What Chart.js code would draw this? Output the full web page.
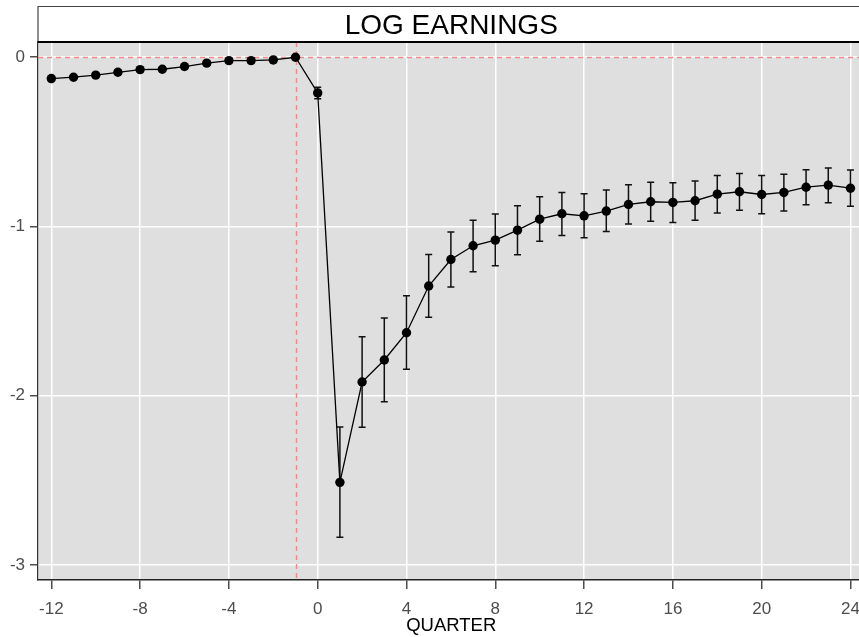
<!DOCTYPE html>
<html>
<head>
<meta charset="utf-8">
<script src="https://cdn.jsdelivr.net/npm/chart.js@4.4.1/dist/chart.umd.min.js"></script>
<style>
  html, body { margin: 0; padding: 0; background: #ffffff; overflow: hidden; }
  #wrap { width: 870px; height: 637px; }
</style>
</head>
<body>
<div id="wrap"><canvas id="c" width="870" height="637"></canvas></div>
<script>
// Event-study estimates of log earnings by quarter relative to the event
const quarters = [-12, -11, -10, -9, -8, -7, -6, -5, -4, -3, -2, -1, 0, 1, 2, 3, 4, 5, 6, 7, 8, 9, 10, 11, 12, 13, 14, 15, 16, 17, 18, 19, 20, 21, 22, 23, 24];
const estimates = [-0.126, -0.118, -0.106, -0.089, -0.073, -0.071, -0.055, -0.035, -0.020, -0.020, -0.016, 0,
  -0.211, -2.512, -1.919, -1.789, -1.628, -1.352, -1.195, -1.114, -1.081, -1.022, -0.957, -0.925, -0.937,
  -0.909, -0.870, -0.854, -0.858, -0.848, -0.809, -0.795, -0.811, -0.799, -0.768, -0.756, -0.774];
const upperCI = [-0.114, -0.106, -0.094, -0.077, -0.061, -0.059, -0.043, -0.023, -0.008, -0.008, -0.004, 0,
  -0.178, -2.185, -1.652, -1.541, -1.410, -1.165, -1.032, -0.963, -0.927, -0.878, -0.825, -0.799, -0.807,
  -0.785, -0.754, -0.738, -0.742, -0.732, -0.699, -0.687, -0.699, -0.691, -0.665, -0.654, -0.667];
const lowerCI = [-0.138, -0.130, -0.118, -0.101, -0.085, -0.083, -0.067, -0.047, -0.032, -0.032, -0.028, 0,
  -0.246, -2.837, -2.187, -2.036, -1.844, -1.537, -1.358, -1.268, -1.232, -1.167, -1.087, -1.053, -1.067,
  -1.030, -0.986, -0.969, -0.976, -0.963, -0.921, -0.904, -0.925, -0.909, -0.872, -0.860, -0.880];
const xTicks = [-12, -8, -4, 0, 4, 8, 12, 16, 20, 24];
const yTicks = [0, -1, -2, -3];
const referenceQuarter = -1;
const baselineValue = 0;
const panelTitle = 'LOG EARNINGS';
const xTitle = 'QUARTER';

const FONT = '"Liberation Sans", Arial, sans-serif';

const panelPlugin = {
  id: 'panel',
  beforeDraw(chart) {
    const { ctx, chartArea: a } = chart;
    ctx.save();
    ctx.fillStyle = '#dfdfdf';
    ctx.fillRect(a.left, a.top, a.right - a.left, a.bottom - a.top);
    // facet strip
    const stripTop = 6;
    ctx.fillStyle = '#ffffff';
    ctx.fillRect(a.left, stripTop, a.right - a.left + 20, a.top - stripTop);
    ctx.strokeStyle = '#444444';
    ctx.lineWidth = 1.2;
    ctx.beginPath();
    ctx.moveTo(a.left, a.top);
    ctx.lineTo(a.left, stripTop + 0.5);
    ctx.lineTo(a.right + 20, stripTop + 0.5);
    ctx.stroke();
    ctx.fillStyle = '#000000';
    ctx.font = '28px ' + FONT;
    ctx.textAlign = 'center';
    ctx.textBaseline = 'middle';
    ctx.fillText(panelTitle, (a.left + a.right) / 2, (stripTop + a.top) / 2 + 2);
    ctx.restore();
  },
  beforeDatasetsDraw(chart) {
    const { ctx, chartArea: a, scales } = chart;
    const x = scales.x, y = scales.y;
    ctx.save();
    // reference lines
    ctx.strokeStyle = '#f08a8a';
    ctx.lineWidth = 1.4;
    ctx.setLineDash([5, 4]);
    const y0 = Math.round(y.getPixelForValue(baselineValue)) + 0.5;
    ctx.beginPath(); ctx.moveTo(a.left, y0); ctx.lineTo(a.right, y0); ctx.stroke();
    const xr = Math.round(x.getPixelForValue(referenceQuarter)) + 0.5;
    ctx.beginPath(); ctx.moveTo(xr, a.top); ctx.lineTo(xr, a.bottom); ctx.stroke();
    ctx.setLineDash([]);
    // confidence intervals
    ctx.strokeStyle = '#111111';
    ctx.lineWidth = 1.5;
    const cap = 3.5;
    quarters.forEach((q, i) => {
      if (upperCI[i] === lowerCI[i]) return;
      const px = x.getPixelForValue(q);
      const pu = y.getPixelForValue(upperCI[i]);
      const pl = y.getPixelForValue(lowerCI[i]);
      ctx.beginPath();
      ctx.moveTo(px, pu); ctx.lineTo(px, pl);
      ctx.moveTo(px - cap, pu); ctx.lineTo(px + cap, pu);
      ctx.moveTo(px - cap, pl); ctx.lineTo(px + cap, pl);
      ctx.stroke();
    });
    ctx.restore();
  },
  afterDraw(chart) {
    const { ctx, chartArea: a } = chart;
    ctx.save();
    ctx.strokeStyle = '#000000';
    ctx.lineWidth = 2;
    ctx.beginPath(); ctx.moveTo(a.left, a.top); ctx.lineTo(a.right + 20, a.top); ctx.stroke();
    ctx.restore();
  }
};

new Chart(document.getElementById('c'), {
  type: 'line',
  data: {
    datasets: [{
      data: quarters.map((q, i) => ({ x: q, y: estimates[i] })),
      borderColor: '#000000',
      borderWidth: 1.3,
      pointRadius: 4.7,
      pointBackgroundColor: '#000000',
      pointBorderColor: '#000000',
      pointBorderWidth: 0,
      tension: 0,
      fill: false
    }]
  },
  options: {
    responsive: false,
    animation: false,
    events: [],
    layout: { padding: { top: 42, right: 0, bottom: 0, left: 0 } },
    plugins: { legend: { display: false }, tooltip: { enabled: false } },
    scales: {
      x: {
        type: 'linear',
        min: -12.6,
        max: 24.63,
        afterBuildTicks: s => { s.ticks = xTicks.map(v => ({ value: v })); },
        afterFit: s => { s.height = 57; },
        grid: { color: '#ffffff', lineWidth: 1.5, tickColor: '#4d4d4d', tickLength: 9, drawTicks: true },
        border: { display: true, color: '#222222', width: 1.5 },
        ticks: { color: '#4d4d4d', font: { family: FONT, size: 17 }, padding: 10, maxRotation: 0, autoSkip: false },
        title: { display: true, text: xTitle, color: '#000000', font: { family: FONT, size: 18.5 }, padding: { top: 0, bottom: 0 } }
      },
      y: {
        min: -3.089,
        max: 0.090,
        afterBuildTicks: s => { s.ticks = yTicks.map(v => ({ value: v })); },
        afterFit: s => { s.width = 38; },
        grid: { color: '#ffffff', lineWidth: 1.5, tickColor: '#4d4d4d', tickLength: 8, drawTicks: true },
        border: { display: true, color: '#333333', width: 1.2 },
        ticks: { color: '#4d4d4d', font: { family: FONT, size: 17 }, padding: 5 }
      }
    }
  },
  plugins: [panelPlugin]
});
</script>
</body>
</html>
